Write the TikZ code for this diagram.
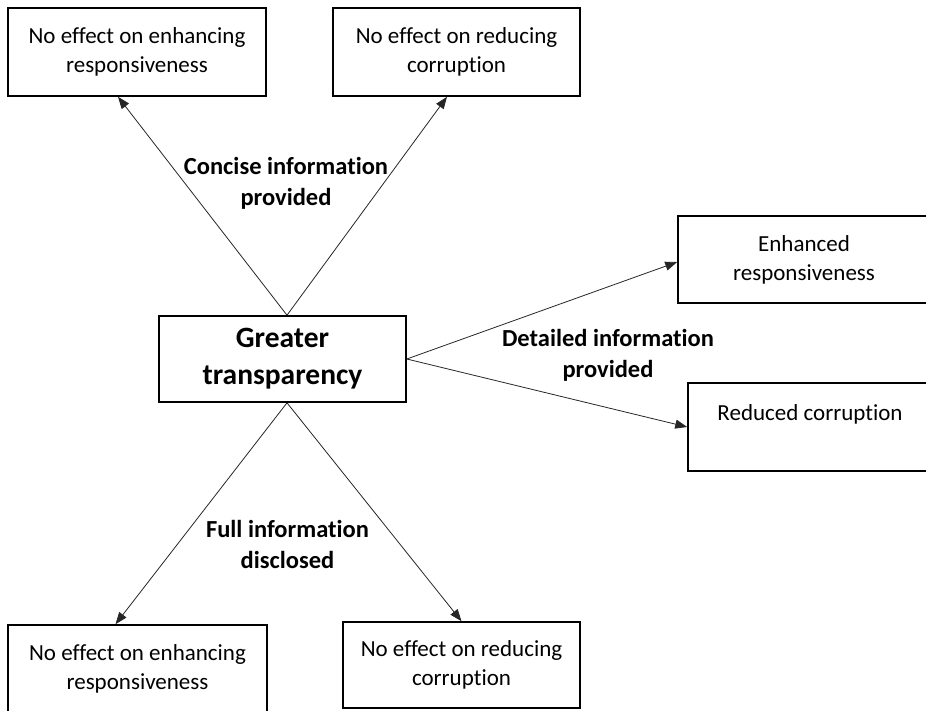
\documentclass[tikz,border=0pt]{standalone}
\usepackage{fontspec}
\setmainfont{Carlito}[Ligatures={NoCommon}]
\usetikzlibrary{arrows.meta}

\begin{document}
\begin{tikzpicture}[x=1pt,y=-1pt,
  box/.style={draw, line width=1.6pt, align=center, inner sep=0pt,
    font=\fontsize{23}{29}\selectfont},
  lbl/.style={align=center, font=\bfseries\fontsize{24.5}{31}\selectfont},
  arr/.style={-{Triangle[length=12pt,width=9pt]}, line width=0.8pt, draw=black!85}]
  \useasboundingbox (0,0) rectangle (926,710);
  \node[box, minimum width=258pt, minimum height=88pt] (tl) at (137,52) {No effect on enhancing\\responsiveness};
  \node[box, minimum width=247pt, minimum height=88pt] (tr) at (456.5,52) {No effect on reducing\\corruption};
  \node[box, minimum width=247pt, minimum height=86pt, font=\bfseries\fontsize{29.5}{37}\selectfont] (ctr) at (282.5,359) {Greater\\transparency};
  \node[box, minimum width=252pt, minimum height=87pt] (enh) at (804,259.5) {Enhanced\\responsiveness};
  \node[box, minimum width=244pt, minimum height=88pt] (red) at (810,427) {Reduced corruption\\ \mbox{}};
  \node[box, minimum width=259pt, minimum height=88pt] (bl) at (137.5,669) {No effect on enhancing\\responsiveness};
  \node[box, minimum width=237pt, minimum height=86pt] (br) at (461.5,665) {No effect on reducing\\corruption};
  \draw[arr] ([xshift=4.5pt]ctr.north) -- ([xshift=-19pt]tl.south);
  \draw[arr] ([xshift=4.5pt]ctr.north) -- ([xshift=-9.5pt]tr.south);
  \draw[arr] (ctr.east) -- ([yshift=-2.5pt]enh.west);
  \draw[arr] (ctr.east) -- (red.west);
  \draw[arr] ([xshift=4.5pt]ctr.south) -- ([xshift=-22pt]bl.north);
  \draw[arr] ([xshift=4.5pt]ctr.south) -- (br.north);
  \node[lbl] (concise) at (286,183.5) {Concise information\\provided};
  \node[lbl] (detailed) at (608,355.5) {Detailed information\\provided};
  \node[lbl] (full) at (287.5,544.5) {Full information\\disclosed};
\end{tikzpicture}
\end{document}
